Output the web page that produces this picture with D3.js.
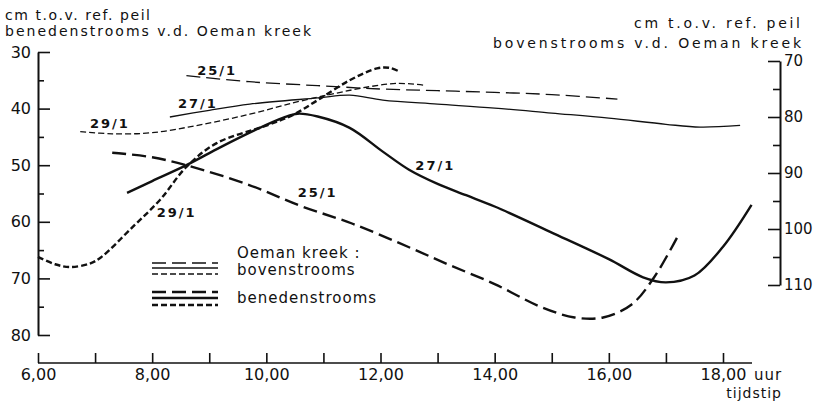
<!DOCTYPE html>
<html>
<head>
<meta charset="utf-8">
<script src="https://cdn.jsdelivr.net/npm/d3@7"></script>
<style>
  body { margin: 0; background: #fff; }
  text { font-family: "DejaVu Sans", sans-serif; fill: #111; }
</style>
</head>
<body>
<svg id="chart"></svg>
<script>
'use strict';

// tick values
const hourTicks = [6, 7, 8, 9, 10, 11, 12, 13, 14, 15, 16, 17, 18];
const leftTicks = [30, 40, 50, 60, 70, 80];
const leftMinor = [35, 45, 55, 65, 75];
const rightTicks = [70, 80, 90, 100, 110];
const rightMinor = [75, 85, 95, 105];

// benedenstrooms (left axis), [uur, cm]
const beneden25 = [[7.3, 47.8], [8.0, 48.6], [8.6, 50], [9.7, 53.5], [10.6, 57.2], [11.5, 60.3],
  [12.5, 64.5], [13.2, 67.6], [14.0, 71], [14.8, 75], [15.4, 76.9], [15.9, 76.9], [16.4, 74.6],
  [16.8, 69.7], [17.2, 62.7]];
const beneden27 = [[7.56, 54.9], [8.0, 52.8], [8.6, 50], [9.2, 46.8], [9.8, 43.8], [10.3, 41.6],
  [10.55, 40.9], [10.9, 41.4], [11.46, 43.4], [12.04, 47.6], [12.5, 50.8], [13.0, 53.3],
  [13.5, 55.3], [14.0, 57.3], [15.0, 61.9], [16.0, 66.6], [16.6, 69.8], [17.0, 70.7],
  [17.5, 69.5], [18.0, 64.4], [18.5, 57.0]];
const beneden29 = [[6.0, 66.2], [6.3, 67.5], [6.56, 68], [6.9, 67.4], [7.1, 66.3], [7.66, 60.9],
  [8.14, 56.1], [8.6, 50.3], [9.13, 46.1], [10.0, 43.0], [10.47, 41.1], [10.9, 38.5],
  [11.46, 35], [11.94, 32.9], [12.16, 32.8], [12.34, 33.5]];

// bovenstrooms (right axis), [uur, cm]
const boven25 = [[8.6, 72.6], [9.7, 73.7], [10.9, 74.4], [12.0, 75.0], [13.0, 75.3],
  [14.0, 75.6], [15.0, 76.0], [16.15, 76.8]];
const boven27 = [[8.31, 80.0], [9.0, 78.8], [9.71, 77.7], [10.9, 76.6], [11.46, 76.1],
  [12.04, 77.0], [13.0, 77.7], [14.0, 78.4], [15.0, 79.3], [16.0, 80.2], [17.0, 81.3],
  [17.6, 81.8], [18.3, 81.5]];
const boven29 = [[6.74, 82.6], [7.3, 83.0], [8.0, 82.8], [8.84, 81.4], [9.71, 79.5],
  [10.5, 77.4], [11.2, 75.8], [11.8, 74.6], [12.3, 74.0], [12.75, 74.3]];

// date labels beside the curves: [text, uur, cm, axis]
const dayLabels = [['25/1', 9.14, 71.6, 'R'], ['27/1', 8.8, 77.5, 'R'], ['29/1', 7.26, 81.1, 'R'],
  ['29/1', 8.43, 58.4, 'L'], ['27/1', 12.96, 50.0, 'L'], ['25/1', 10.9, 54.9, 'L']];

const dashes = { '25/1': '14,6', '27/1': null, '29/1': '6,3' };

const width = 817, height = 401;
const svg = d3.select('#chart')
    .attr('width', width)
    .attr('height', height);

const x = d3.scaleLinear().domain([6, 18]).range([38, 723]);
const yL = d3.scaleLinear().domain([30, 80]).range([52, 335]);
const yR = d3.scaleLinear().domain([70, 110]).range([61, 285]);

// axes
svg.append('g')
    .attr('transform', 'translate(38,0)')
    .call(d3.axisLeft(yL).tickValues(leftTicks).tickSize(-12).tickSizeOuter(0).tickPadding(7));
svg.append('g')
    .attr('transform', 'translate(38,0)')
    .call(d3.axisLeft(yL).tickValues(leftMinor).tickSize(-6).tickFormat(''))
    .select('.domain').remove();

const rightAxis = svg.append('g')
    .attr('transform', 'translate(780,0)')
    .call(d3.axisRight(yR).tickValues(rightTicks).tickSize(-12).tickSizeOuter(0).tickPadding(4));
svg.append('g')
    .attr('transform', 'translate(780,0)')
    .call(d3.axisRight(yR).tickValues(rightMinor).tickSize(-7).tickFormat(''))
    .select('.domain').remove();

const bottomAxis = svg.append('g')
    .attr('transform', 'translate(0,363)')
    .call(d3.axisBottom(x).tickValues(hourTicks).tickSize(-10).tickSizeOuter(0).tickPadding(6)
      .tickFormat(d => d % 2 === 0 ? `${d},00` : ''));
bottomAxis.select('.domain').attr('d', `M${x(6)},0H752`);

svg.selectAll('.domain').attr('stroke', '#111').attr('stroke-width', 2);
bottomAxis.select('.domain').attr('stroke-width', 1.6);
svg.selectAll('.tick line').attr('stroke', '#111').attr('stroke-width', 1.6);
svg.selectAll('.tick text')
    .attr('font-size', 16)
    .style('font-family', '"DejaVu Sans", sans-serif')
    .attr('fill', '#111');
rightAxis.selectAll('.tick text').attr('font-size', 15);

svg.append('text').attr('x', 754).attr('y', 380).attr('font-size', 15).attr('letter-spacing', 1).text('uur');
svg.append('text').attr('x', 782).attr('y', 398).attr('font-size', 14).attr('text-anchor', 'end')
    .attr('letter-spacing', 1).text('tijdstip');

// axis titles
svg.append('text').attr('x', 5).attr('y', 20).attr('font-size', 14)
    .attr('textLength', 145).attr('lengthAdjust', 'spacing').text('cm t.o.v. ref. peil');
svg.append('text').attr('x', 5).attr('y', 36).attr('font-size', 14)
    .attr('textLength', 306).attr('lengthAdjust', 'spacing').text('benedenstrooms v.d. Oeman kreek');
svg.append('text').attr('x', 634).attr('y', 28).attr('font-size', 14)
    .attr('textLength', 166).attr('lengthAdjust', 'spacing').text('cm  t.o.v. ref. peil');
svg.append('text').attr('x', 493).attr('y', 48).attr('font-size', 14)
    .attr('textLength', 308).attr('lengthAdjust', 'spacing').text('bovenstrooms v.d. Oeman kreek');

// curves
const lineL = d3.line().x(d => x(d[0])).y(d => yL(d[1])).curve(d3.curveCatmullRom);
const lineR = d3.line().x(d => x(d[0])).y(d => yR(d[1])).curve(d3.curveCatmullRom);

const series = [
  { data: boven25, day: '25/1', line: lineR, w: 1.3 },
  { data: boven27, day: '27/1', line: lineR, w: 1.3 },
  { data: boven29, day: '29/1', line: lineR, w: 1.3 },
  { data: beneden25, day: '25/1', line: lineL, w: 2.4 },
  { data: beneden27, day: '27/1', line: lineL, w: 2.4 },
  { data: beneden29, day: '29/1', line: lineL, w: 2.4 }
];

svg.append('g')
    .attr('fill', 'none')
    .attr('stroke', '#111')
    .selectAll('path')
    .data(series)
  .enter().append('path')
    .attr('d', d => d.line(d.data))
    .attr('stroke-width', d => d.w)
    .attr('stroke-dasharray', d => dashes[d.day]);

svg.append('g')
    .selectAll('text')
    .data(dayLabels)
  .enter().append('text')
    .attr('x', d => x(d[1]))
    .attr('y', d => (d[3] === 'L' ? yL(d[2]) : yR(d[2])))
    .attr('dy', '0.35em')
    .attr('text-anchor', 'middle')
    .attr('font-size', 13)
    .attr('font-weight', 'bold')
    .attr('letter-spacing', 2)
    .text(d => d[0]);

// legend
const legendRows = [
  { day: '25/1', y: 263, w: 1.3 }, { day: '27/1', y: 268, w: 1.3 }, { day: '29/1', y: 274, w: 1.3 },
  { day: '25/1', y: 292, w: 2.4 }, { day: '27/1', y: 298, w: 2.4 }, { day: '29/1', y: 305, w: 2.4 }
];
const legend = svg.append('g');
legend.selectAll('line')
    .data(legendRows)
  .enter().append('line')
    .attr('x1', 152).attr('x2', 218)
    .attr('y1', d => d.y).attr('y2', d => d.y)
    .attr('stroke', '#111')
    .attr('stroke-width', d => d.w)
    .attr('stroke-dasharray', d => dashes[d.day]);
legend.append('text').attr('x', 237).attr('y', 258).attr('font-size', 15).attr('letter-spacing', 1).text('Oeman kreek :');
legend.append('text').attr('x', 237).attr('y', 275).attr('font-size', 15).attr('letter-spacing', 1).text('bovenstrooms');
legend.append('text').attr('x', 237).attr('y', 303).attr('font-size', 15).attr('letter-spacing', 1).text('benedenstrooms');
</script>
</body>
</html>
